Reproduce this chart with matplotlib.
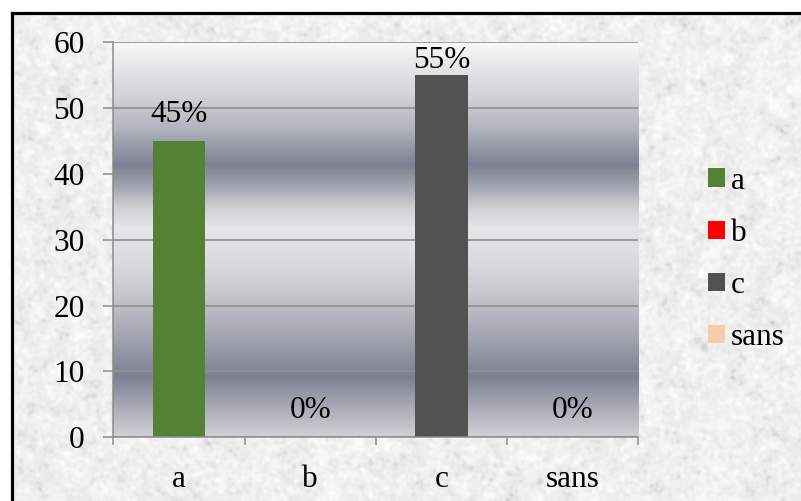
import numpy as np
import matplotlib
matplotlib.use("Agg")
import matplotlib.pyplot as plt
from matplotlib.colors import LinearSegmentedColormap
from matplotlib.patches import Patch

# ---- data ----
categories = ["a", "b", "c", "sans"]
values = [45, 0, 55, 0]
value_labels = ["45%", "0%", "55%", "0%"]
bar_colors = ["#548235", "#ff0000", "#525252", "#f8cbad"]
yticks = [0, 10, 20, 30, 40, 50, 60]

plt.rcParams["font.family"] = ["Liberation Serif", "DejaVu Serif"]
FS = 22.5

W, H = 801, 501
fig = plt.figure(figsize=(W / 100, H / 100), dpi=100)
fig.patch.set_facecolor("white")


# ---- stone-like paper texture for the chart background ----
def gblur(a, s):
    ky = np.fft.fftfreq(a.shape[0])
    kx = np.fft.fftfreq(a.shape[1])
    g = np.exp(-2 * (np.pi * s) ** 2 * (ky[:, None] ** 2 + kx[None, :] ** 2))
    return np.real(np.fft.ifft2(np.fft.fft2(a) * g))


rng = np.random.default_rng(7)
fine = gblur(rng.standard_normal((H, W)), 1.5)
fine /= fine.std()
coarse = gblur(rng.standard_normal((H, W)), 4.5)
coarse /= coarse.std()
t = 0.6 * fine + 0.5 * coarse
gray = 0.94 + 0.022 * t
gray -= 0.03 * np.clip(-t - 1.2, 0, None)
gray = np.clip(gray, 0.80, 0.99)
tex = np.dstack([gray, gray, gray])
tex[:12, :, :] = 1.0
tex[:, :11, :] = 1.0

bg = fig.add_axes([0, 0, 1, 1])
bg.imshow(tex, extent=(0, W, H, 0), aspect="auto", interpolation="bilinear")
bg.set_xlim(0, W)
bg.set_ylim(H, 0)
bg.axis("off")
# black frame (top and left edges)
bg.plot([11.5, 11.5], [H, 12.5], color="black", lw=2.3, solid_capstyle="projecting")
bg.plot([11.5, W], [12.5, 12.5], color="black", lw=2.3, solid_capstyle="projecting")

# ---- plot area ----
left, right, top, bottom = 113.3, 638.4, 42.3, 437.3
ax = fig.add_axes([left / W, (H - bottom) / H, (right - left) / W, (bottom - top) / H])
ax.set_xlim(-0.5, 3.5)
ax.set_ylim(0, 60)

# metallic gradient fill of the plot area
stops = [
    (0.00, "#f9f9f9"), (0.05, "#e9e9eb"), (0.14, "#d0d1d5"), (0.22, "#b0b3bd"),
    (0.31, "#7b8094"), (0.37, "#a6a9b4"), (0.42, "#cfd0d4"), (0.47, "#e6e6e8"),
    (0.56, "#dadbde"), (0.645, "#c4c6cc"), (0.73, "#a8abb5"), (0.81, "#8a8e9e"),
    (0.85, "#7b8093"), (0.90, "#9a9daa"), (0.985, "#c8c9cf"), (1.00, "#d0d1d5"),
]
cmap = LinearSegmentedColormap.from_list("chrome", stops)
grad = np.linspace(0, 1, 500).reshape(-1, 1)
ax.imshow(grad, cmap=cmap, extent=(-0.5, 3.5, 0, 60), aspect="auto",
          origin="upper", zorder=0, interpolation="bilinear")

ax.set_axisbelow(True)
ax.grid(axis="y", color="#8f8f8f", lw=1.2)
ax.grid(axis="x", visible=False)

x = np.arange(len(categories))
ax.bar(x, values, width=0.4, color=bar_colors, zorder=2)

for xi, v, lab in zip(x, values, value_labels):
    ax.text(xi, min(v + 2.93, 56.05), lab, ha="center", va="baseline",
            fontsize=FS, zorder=3)

for side in ("top", "right"):
    ax.spines[side].set_visible(False)
for side in ("left", "bottom"):
    ax.spines[side].set_color("#8c8c8c")
    ax.spines[side].set_linewidth(1.1)

ax.set_yticks(yticks)
ax.tick_params(axis="y", length=7.2, width=1.1, color="#8c8c8c", pad=13.5,
               labelsize=FS)
ax.set_xticks(x, categories)
ax.set_xticks(np.arange(-0.5, len(categories), 1.0), minor=True)
ax.tick_params(axis="x", which="major", length=0, pad=20, labelsize=FS)
ax.tick_params(axis="x", which="minor", length=6, width=1.1, color="#8c8c8c")

# ---- legend ----
handles = [Patch(facecolor=c, edgecolor="none") for c in bar_colors]
fig.legend(handles, categories, loc="center left",
           bbox_to_anchor=(708 / W, 1 - 259.5 / H), frameon=False, fontsize=FS,
           handlelength=0.54, handleheight=0.54, handletextpad=0.2,
           labelspacing=0.74, borderpad=0, borderaxespad=0)

fig.savefig("out.png", dpi=100)
